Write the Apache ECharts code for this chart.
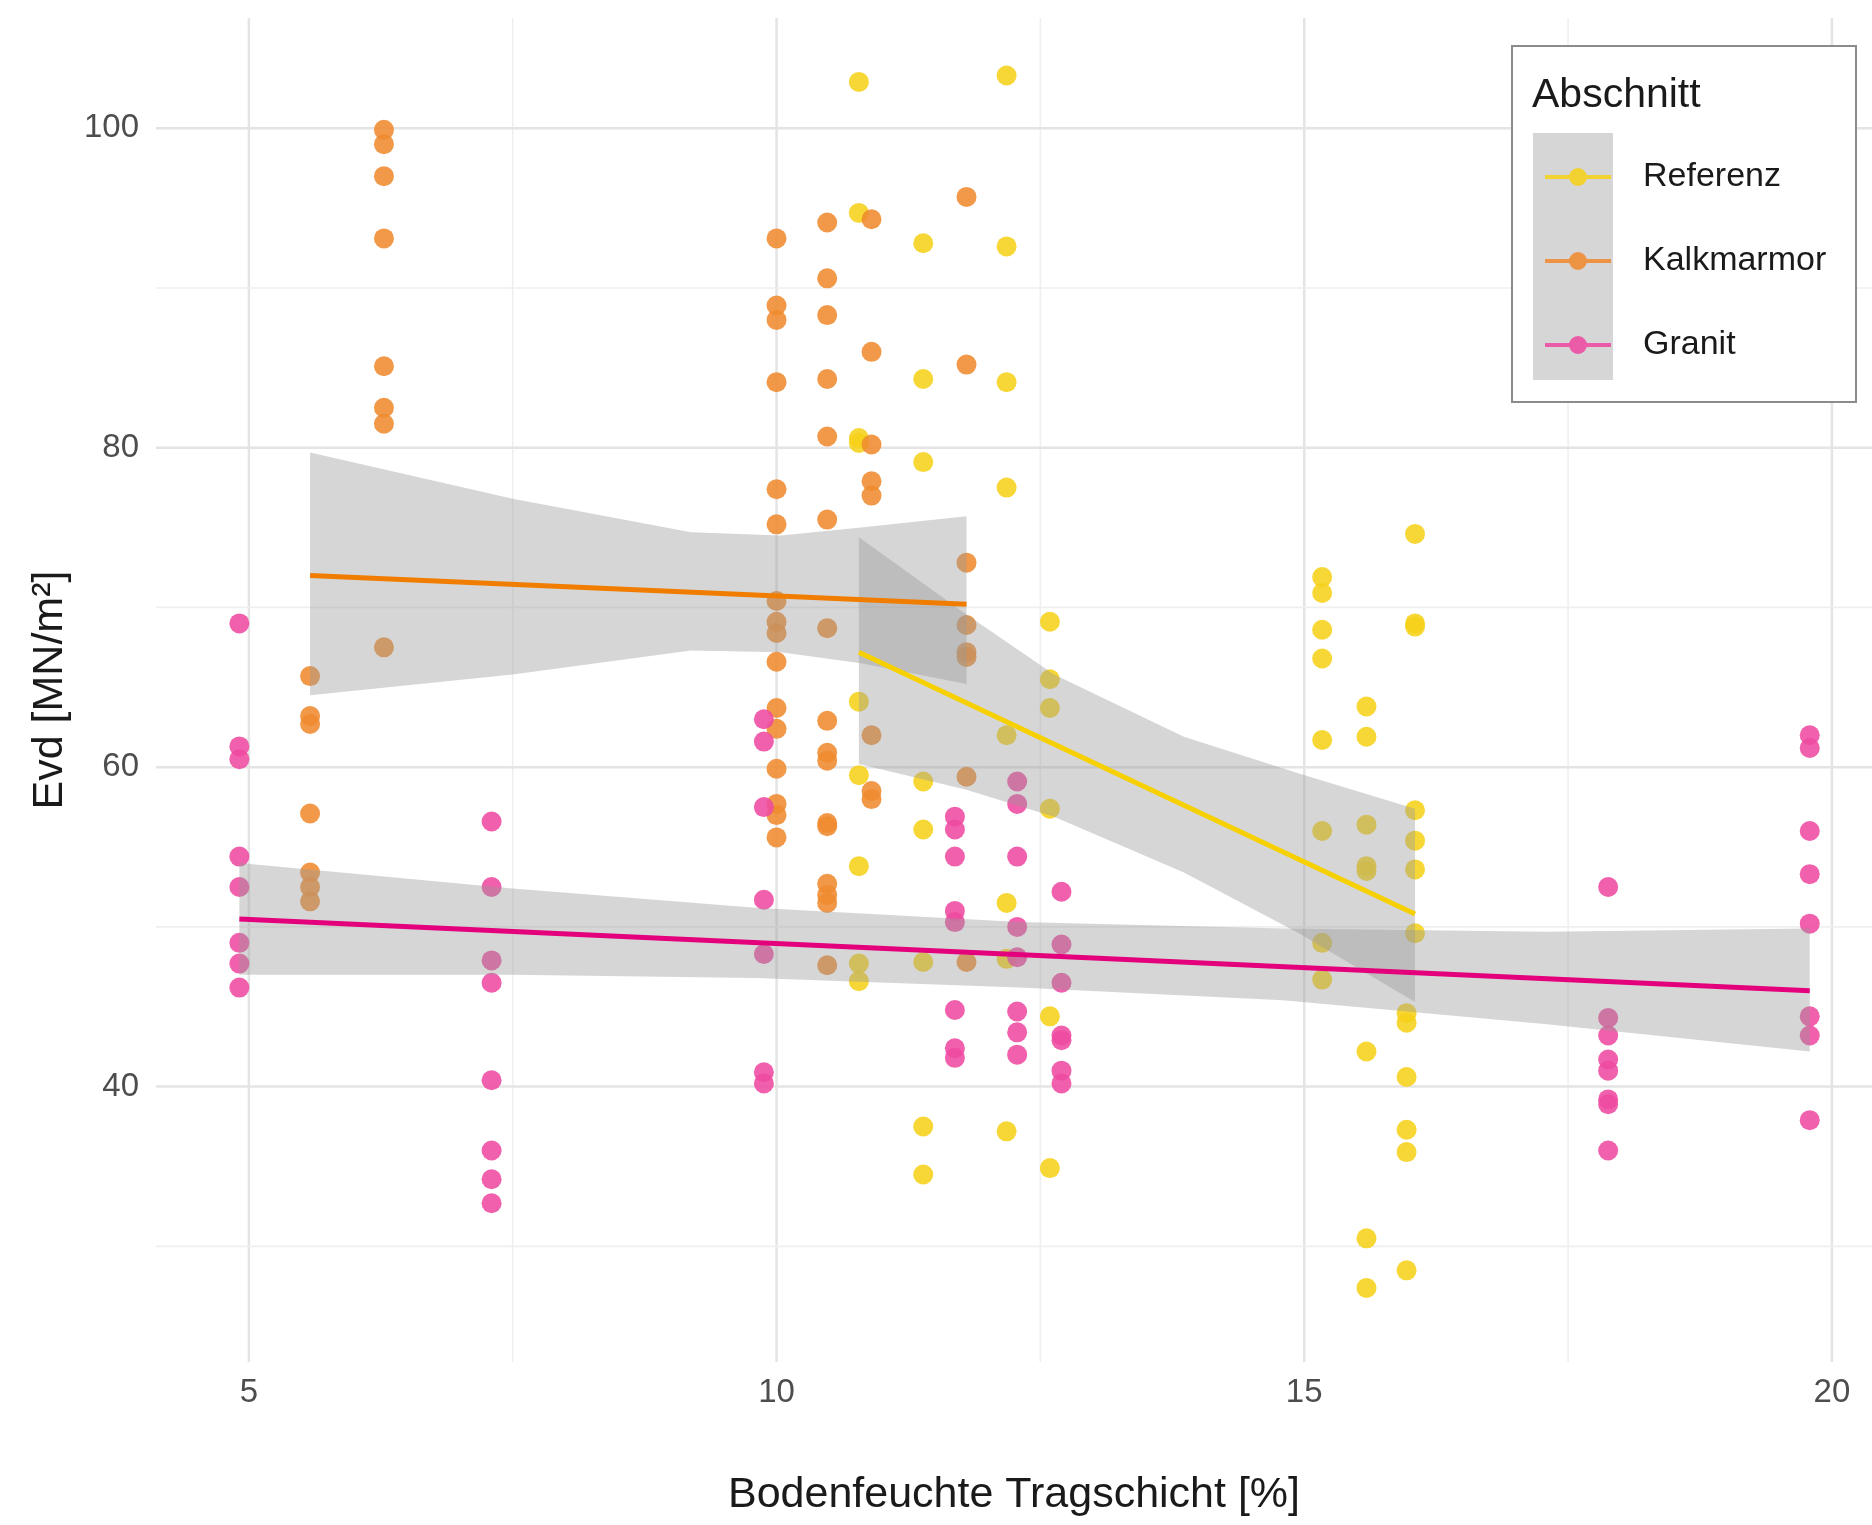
<!DOCTYPE html>
<html>
<head>
<meta charset="utf-8">
<title>Evd / Bodenfeuchte</title>
<script src="https://cdn.jsdelivr.net/npm/echarts@6/dist/echarts.min.js"></script>
<style>
  html, body { margin: 0; padding: 0; background: #fff; }
  #chart { width: 1872px; height: 1525px; }
</style>
</head>
<body>
<div id="chart"></div>
<script>
// ticks / gridlines
const xTicks = [5, 10, 15, 20];
const xMinorTicks = [7.5, 12.5, 17.5];
const yTicks = [40, 60, 80, 100];
const yMinorTicks = [30, 50, 70, 90];

const groups = ["Referenz", "Kalkmarmor", "Granit"];

// measured points [Bodenfeuchte %, Evd]
const referenzPoints = [
  [10.78, 102.9], [10.78, 94.7], [10.78, 80.6], [10.78, 80.3], [10.78, 64.1], [10.78, 59.5], [10.78, 53.8], [10.78, 47.7], [10.78, 46.6],
  [11.39, 92.8], [11.39, 84.3], [11.39, 79.1], [11.39, 59.1], [11.39, 56.1], [11.39, 47.8], [11.39, 37.5], [11.39, 34.5],
  [12.18, 103.3], [12.18, 92.6], [12.18, 84.1], [12.18, 77.5], [12.18, 62.0], [12.18, 51.5], [12.18, 48.0], [12.18, 37.2],
  [12.59, 69.1], [12.59, 65.5], [12.59, 63.7], [12.59, 57.4], [12.59, 44.4], [12.59, 34.9],
  [15.17, 71.9], [15.17, 70.9], [15.17, 68.6], [15.17, 66.8], [15.17, 61.7], [15.17, 56.0], [15.17, 49.0], [15.17, 46.7],
  [15.59, 63.8], [15.59, 61.9], [15.59, 56.4], [15.59, 53.8], [15.59, 53.5], [15.59, 42.2], [15.59, 30.5], [15.59, 27.4],
  [15.97, 44.6], [15.97, 44.0], [15.97, 40.6], [15.97, 37.3], [15.97, 35.9], [15.97, 28.5],
  [16.05, 74.6], [16.05, 69.0], [16.05, 68.8], [16.05, 57.3], [16.05, 55.4], [16.05, 53.6], [16.05, 49.6]
];
const kalkmarmorPoints = [
  [5.58, 65.7], [5.58, 63.2], [5.58, 62.7], [5.58, 57.1], [5.58, 53.4], [5.58, 52.5], [5.58, 51.6],
  [6.28, 99.9], [6.28, 99.0], [6.28, 97.0], [6.28, 93.1], [6.28, 85.1], [6.28, 82.5], [6.28, 81.5], [6.28, 67.5],
  [10.0, 93.1], [10.0, 88.9], [10.0, 88.0], [10.0, 84.1], [10.0, 77.4], [10.0, 75.2], [10.0, 70.4], [10.0, 69.1],
  [10.0, 68.4], [10.0, 66.6], [10.0, 63.7], [10.0, 62.4], [10.0, 59.9], [10.0, 57.7], [10.0, 57.0], [10.0, 55.6],
  [10.48, 94.1], [10.48, 90.6], [10.48, 88.3], [10.48, 84.3], [10.48, 80.7], [10.48, 75.5], [10.48, 68.7], [10.48, 62.9],
  [10.48, 60.9], [10.48, 60.4], [10.48, 56.5], [10.48, 56.3], [10.48, 52.7], [10.48, 52.0], [10.48, 51.5], [10.48, 47.6],
  [10.9, 94.3], [10.9, 86.0], [10.9, 80.2], [10.9, 77.9], [10.9, 77.0], [10.9, 62.0], [10.9, 58.5], [10.9, 58.0],
  [11.8, 95.7], [11.8, 85.2], [11.8, 72.8], [11.8, 68.9], [11.8, 67.2], [11.8, 66.9], [11.8, 59.4], [11.8, 47.8]
];
const granitPoints = [
  [4.91, 69.0], [4.91, 61.3], [4.91, 60.5], [4.91, 54.4], [4.91, 52.5], [4.91, 49.0], [4.91, 47.7], [4.91, 46.2],
  [7.3, 56.6], [7.3, 52.5], [7.3, 47.9], [7.3, 46.5], [7.3, 40.4], [7.3, 36.0], [7.3, 34.2], [7.3, 32.7],
  [9.88, 63.0], [9.88, 61.6], [9.88, 57.5], [9.88, 51.7], [9.88, 48.3], [9.88, 40.9], [9.88, 40.2],
  [11.69, 56.9], [11.69, 56.1], [11.69, 54.4], [11.69, 51.0], [11.69, 50.3], [11.69, 44.8], [11.69, 42.4], [11.69, 41.8],
  [12.28, 59.1], [12.28, 57.7], [12.28, 54.4], [12.28, 50.0], [12.28, 48.1], [12.28, 44.7], [12.28, 43.4], [12.28, 42.0],
  [12.7, 52.2], [12.7, 48.9], [12.7, 46.5], [12.7, 43.2], [12.7, 42.9], [12.7, 41.0], [12.7, 40.2],
  [17.88, 52.5], [17.88, 44.3], [17.88, 43.2], [17.88, 41.7], [17.88, 41.0], [17.88, 39.2], [17.88, 38.9], [17.88, 36.0],
  [19.79, 62.0], [19.79, 61.2], [19.79, 56.0], [19.79, 53.3], [19.79, 50.2], [19.79, 44.4], [19.79, 43.2], [19.79, 37.9]
];

// lm fits and confidence bands
const referenzFit = [[10.78, 67.2], [16.05, 50.8]];
const referenzBandX = [10.78, 11.79, 12.63, 13.86, 14.95, 16.05];
const referenzBandLow = [60.2, 58.6, 56.9, 53.4, 49.6, 45.3];
const referenzBandHigh = [74.4, 69.6, 65.8, 61.9, 59.6, 57.4];

const kalkmarmorFit = [[5.58, 72.0], [11.8, 70.2]];
const kalkmarmorBandX = [5.58, 7.5, 9.19, 10.04, 10.8, 11.8];
const kalkmarmorBandLow = [64.5, 65.8, 67.3, 67.2, 66.5, 65.2];
const kalkmarmorBandHigh = [79.7, 76.8, 74.7, 74.5, 75.0, 75.7];

const granitFit = [[4.91, 50.5], [19.79, 46.0]];
const granitBandX = [4.91, 7.5, 9.8, 12.3, 14.8, 17.3, 19.79];
const granitBandLow = [47.0, 47.0, 46.8, 46.2, 45.4, 43.9, 42.2];
const granitBandHigh = [54.0, 52.4, 51.2, 50.3, 49.9, 49.7, 49.9];

const X_MIN = 4.12, X_MAX = 20.38;
const Y_MIN = 22.76, Y_MAX = 106.9;
const FONT = "'Liberation Sans', Arial, sans-serif";

const pointColors = ["#F6D21A", "#EF8B30", "#EE4AA0"];
const lineColors = ["#F6D000", "#F07D00", "#E4007C"];

function bandRows(xs, lo, hi) {
  return xs.map((x, i) => [x, lo[i], hi[i]]);
}

function renderBand(params, api) {
  if (params.dataIndexInside !== 0) return null;
  const n = params.dataInsideLength;
  const top = [], bottom = [];
  for (let i = 0; i < n; i++) {
    const x = api.value(0, i);
    top.push(api.coord([x, api.value(2, i)]));
    bottom.unshift(api.coord([x, api.value(1, i)]));
  }
  return {
    type: "polygon",
    shape: { points: top.concat(bottom) },
    style: { fill: "rgba(153,153,153,0.4)" }
  };
}

function renderGrid(vertical) {
  return function (params, api) {
    const major = api.value(2) === 1;
    const v = vertical ? api.value(0) : api.value(1);
    const a = vertical ? api.coord([v, Y_MIN]) : api.coord([X_MIN, v]);
    const b = vertical ? api.coord([v, Y_MAX]) : api.coord([X_MAX, v]);
    return {
      type: "line",
      shape: { x1: a[0], y1: a[1], x2: b[0], y2: b[1] },
      style: { stroke: major ? "#E4E4E4" : "#EFEFEF", lineWidth: major ? 2.5 : 1.6 }
    };
  };
}

const chart = echarts.init(document.getElementById("chart"), null, { renderer: "canvas" });

const series = [
  {
    type: "custom", name: "gridX", silent: true, z: 0,
    renderItem: renderGrid(true),
    data: xTicks.map(v => [v, Y_MIN, 1]).concat(xMinorTicks.map(v => [v, Y_MIN, 0]))
  },
  {
    type: "custom", name: "gridY", silent: true, z: 0,
    renderItem: renderGrid(false),
    data: yTicks.map(v => [X_MIN, v, 1]).concat(yMinorTicks.map(v => [X_MIN, v, 0]))
  }
];

const allPoints = [referenzPoints, kalkmarmorPoints, granitPoints];
groups.forEach((g, i) => {
  series.push({
    type: "scatter", name: g, z: 2, silent: true,
    symbolSize: 20,
    itemStyle: { color: pointColors[i], opacity: 0.88, borderWidth: 0 },
    data: allPoints[i]
  });
});

const bands = [
  bandRows(referenzBandX, referenzBandLow, referenzBandHigh),
  bandRows(kalkmarmorBandX, kalkmarmorBandLow, kalkmarmorBandHigh),
  bandRows(granitBandX, granitBandLow, granitBandHigh)
];
const fits = [referenzFit, kalkmarmorFit, granitFit];

groups.forEach((g, i) => {
  series.push({
    type: "custom", name: g + " KI", z: 3, silent: true, clip: true,
    renderItem: renderBand,
    encode: { x: 0, y: [1, 2] },
    data: bands[i]
  });
});
groups.forEach((g, i) => {
  series.push({
    type: "line", name: g + " lm", z: 4, silent: true,
    showSymbol: false,
    lineStyle: { color: lineColors[i], width: 5 },
    itemStyle: { color: lineColors[i] },
    data: fits[i]
  });
});

const option = {
  animation: false,
  backgroundColor: "#fff",
  textStyle: { fontFamily: FONT },
  grid: { left: 156, right: 0, top: 18, bottom: 163, containLabel: false },
  xAxis: {
    type: "value", min: X_MIN, max: X_MAX,
    splitLine: { show: false }, axisLine: { show: false }, axisTick: { show: false },
    axisLabel: { customValues: xTicks, fontSize: 33, color: "#4D4D4D", margin: 14, fontFamily: FONT },
    name: "Bodenfeuchte Tragschicht [%]", nameLocation: "middle", nameGap: 112,
    nameTextStyle: { fontSize: 43, color: "#1A1A1A", fontFamily: FONT }
  },
  yAxis: {
    type: "value", min: Y_MIN, max: Y_MAX,
    splitLine: { show: false }, axisLine: { show: false }, axisTick: { show: false },
    axisLabel: { customValues: yTicks, fontSize: 33, color: "#4D4D4D", margin: 17, fontFamily: FONT },
    name: "Evd [MN/m²]", nameLocation: "middle", nameGap: 84,
    nameTextStyle: { fontSize: 43, color: "#1A1A1A", fontFamily: FONT }
  },
  legend: {
    data: groups, orient: "vertical", left: 1540, top: 155, z: 10,
    selectedMode: false,
    itemWidth: 66, itemHeight: 20, itemGap: 50,
    icon: "path://M0,8H66V12H0Z M24,10A9,9 0 1,1 42,10A9,9 0 1,1 24,10Z",
    textStyle: { fontSize: 34, color: "#1A1A1A", fontFamily: FONT, padding: [0, 0, 0, 27] }
  },
  graphic: [
    { type: "rect", z: 5, shape: { x: 1512, y: 46, width: 344, height: 356 },
      style: { fill: "#fff", stroke: "#8C8C8C", lineWidth: 2 } },
    { type: "rect", z: 6, shape: { x: 1533, y: 133, width: 80, height: 247 },
      style: { fill: "#D6D6D6" } },
    { type: "text", z: 6, x: 1532, y: 96,
      style: { text: "Abschnitt", font: "41px " + FONT, fill: "#1A1A1A", verticalAlign: "middle" } }
  ],
  series: series
};

chart.setOption(option);
</script>
</body>
</html>
